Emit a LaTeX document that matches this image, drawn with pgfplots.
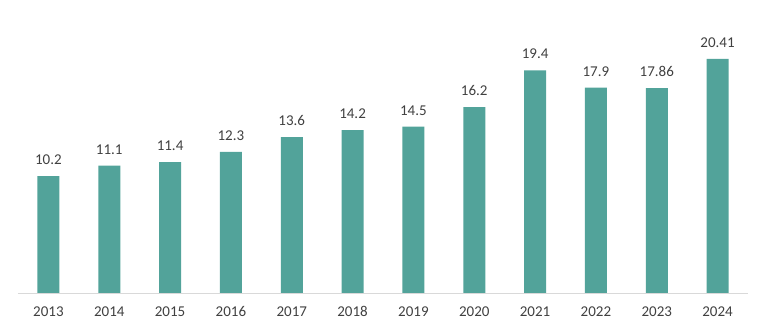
\documentclass[border=0pt]{standalone}
\usepackage{pgfplots}
\pgfplotsset{compat=1.18}
\usepackage{fontspec}
\setmainfont{Carlito}
\definecolor{bar}{RGB}{82,163,154}
\definecolor{txt}{RGB}{64,64,64}
\definecolor{axl}{RGB}{217,217,217}
\begin{document}
\begin{tikzpicture}
\useasboundingbox (0,0) rectangle (768pt,326pt);
\begin{axis}[
  at={(18pt,33pt)}, anchor=south west,
  scale only axis, width=730pt, height=293pt,
  xmin=-0.5, xmax=11.5, ymin=0, ymax=25.545,
  axis x line*=bottom, axis y line=none,
  x axis line style={draw=axl, line width=0.8pt, -},
  xtick={0,...,11},
  xticklabels={2013,2014,2015,2016,2017,2018,2019,2020,2021,2022,2023,2024},
  xtick style={draw=none},
  ticklabel style={font=\fontsize{15}{17}\selectfont, text=txt},
  xticklabel style={yshift=-10pt},
  ytick=\empty,
  clip=false,
  nodes near coords,
  nodes near coords style={font=\fontsize{15}{17}\selectfont, text=txt, anchor=south, yshift=8pt},
  point meta=explicit symbolic,
]
\addplot[ybar, bar width=22pt, fill=bar, draw=none] coordinates {
(0,10.2) [10.2]
(1,11.1) [11.1]
(2,11.4) [11.4]
(3,12.3) [12.3]
(4,13.6) [13.6]
(5,14.2) [14.2]
(6,14.5) [14.5]
(7,16.2) [16.2]
(8,19.4) [19.4]
(9,17.9) [17.9]
(10,17.86) [17.86]
(11,20.41) [20.41]
};
\end{axis}
\end{tikzpicture}
\end{document}
